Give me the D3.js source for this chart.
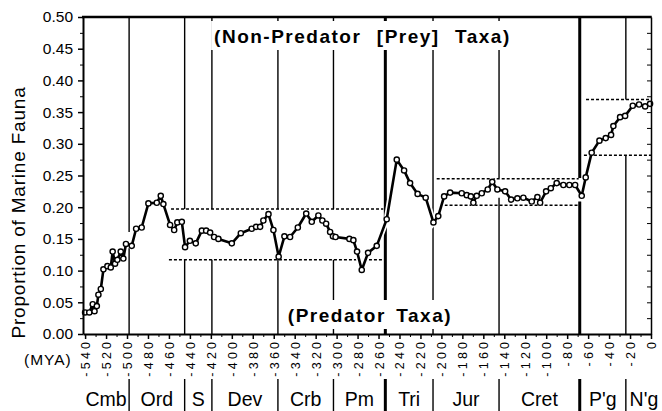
<!DOCTYPE html>
<html>
<head>
<meta charset="utf-8">
<script src="https://cdn.jsdelivr.net/npm/d3@7"></script>
<style>
body { margin: 0; background: #fff; }
svg { display: block; font-family: "Liberation Sans", Arial, Helvetica, sans-serif; }
</style>
</head>
<body>
<div id="chart"></div>
<script>
// geologic periods and their boundaries (MYA)
var periods = ["Cmb", "Ord", "S", "Dev", "Crb", "Pm", "Tri", "Jur", "Cret", "P'g", "N'g"];
var boundaries = [-498, -445, -419, -356, -303, -253.5, -208, -145, -68, -24];
var massExtinctions = [-253.5, -68];
// where each boundary line is interrupted (proportion low/high), null = drawn full
var boundaryGaps = [[0.137, 0.161], [0.117, 0.197], [0.117, 0.197], [0.117, 0.197], [0.117, 0.197],
    null, null, [0.215, 0.246], [0.209, 0.246], [0.282, 0.37]];

// era reference levels (dashed)
var eraStartUpper = [-458, -204.5, -62];
var eraStartLower = [-460, -197, -64];
var eraEnd = [-255.5, -69, 0];
var eraUpper = [0.197, 0.245, 0.370];
var eraLower = [0.117, 0.203, 0.282];

// proportion of non-predator (prey) taxa
var mya = [-540, -536, -532.7, -531, -528.8, -527.3, -525, -522.5, -518.7, -515.5, -513.7, -511.4,
    -509.2, -506, -503.5, -501, -495.5, -491.3, -486, -479.6, -471.6, -467.8, -465.3, -458.9,
    -455, -452, -447.7, -444.6, -440, -434.4, -428.6, -424.5, -420.7, -416.9, -412.8, -400,
    -391.4, -381, -376.8, -373, -369.9, -365, -360.3, -355.3, -349.8, -344.4, -337, -329,
    -323.7, -317.4, -313.6, -310, -306.2, -303.5, -301, -287.8, -284, -280.5, -276, -270,
    -261.7, -252.2, -242.6, -235.6, -229.9, -222.7, -215, -207.6, -203, -197.4, -191.7, -180.6,
    -175.8, -171.9, -169.5, -166.3, -161.5, -155.8, -151.5, -146.6, -139.2, -133.5, -127.5, -121.8,
    -113.8, -108.4, -105.8, -100.1, -95.6, -90, -83.6, -77.9, -72.4, -66.1, -62.3, -56.6,
    -49.2, -43.2, -38.1, -35.9, -29.5, -24.7, -17.4, -11.4, -5.6, -0.9];
var preyProportion = [0.034, 0.034, 0.047, 0.036, 0.044, 0.062, 0.071, 0.102, 0.107, 0.105, 0.130, 0.111,
    0.117, 0.130, 0.119, 0.142, 0.139, 0.166, 0.168, 0.206, 0.207, 0.218, 0.205, 0.172,
    0.164, 0.176, 0.177, 0.137, 0.147, 0.143, 0.163, 0.163, 0.160, 0.153, 0.150, 0.143,
    0.159, 0.166, 0.169, 0.169, 0.179, 0.189, 0.164, 0.122, 0.154, 0.153, 0.168, 0.190,
    0.177, 0.187, 0.179, 0.174, 0.161, 0.154, 0.153, 0.150, 0.148, 0.130, 0.101, 0.128,
    0.139, 0.181, 0.275, 0.258, 0.238, 0.221, 0.215, 0.176, 0.186, 0.217, 0.223, 0.222,
    0.219, 0.217, 0.207, 0.218, 0.222, 0.228, 0.240, 0.228, 0.225, 0.212, 0.214, 0.215,
    0.209, 0.216, 0.207, 0.225, 0.230, 0.238, 0.235, 0.235, 0.235, 0.218, 0.247, 0.286,
    0.305, 0.309, 0.314, 0.328, 0.342, 0.344, 0.360, 0.362, 0.359, 0.363];

var xTickValues = [-540, -520, -500, -480, -460, -440, -420, -400, -380, -360, -340, -320, -300, -280,
    -260, -240, -220, -200, -180, -160, -140, -120, -100, -80, -60, -40, -20, 0];
var xMinorTicks = [-530, -510, -490, -470, -450, -430, -410, -390, -370, -350, -330, -310, -290, -270,
    -250, -230, -210, -190, -170, -150, -130, -110, -90, -70, -50, -30, -10];
var yTickValues = [0, 0.05, 0.10, 0.15, 0.20, 0.25, 0.30, 0.35, 0.40, 0.45, 0.50];
var yMinorTicks = [0.025, 0.075, 0.125, 0.175, 0.225, 0.275, 0.325, 0.375, 0.425, 0.475];
var rightTicks = [0.025, 0.05, 0.075, 0.10, 0.125, 0.15, 0.175, 0.20, 0.225, 0.25, 0.275, 0.30,
    0.325, 0.35, 0.375, 0.40, 0.425, 0.45, 0.475];

var width = 662, height = 411;
var margin = { top: 17, right: 11, bottom: 77, left: 83 };

var x = d3.scaleLinear()
    .domain([-542, 0])
    .range([margin.left, width - margin.right]);
var y = d3.scaleLinear()
    .domain([0, 0.5])
    .range([height - margin.bottom, margin.top]);

var svg = d3.select('#chart').append('svg')
    .attr('width', width)
    .attr('height', height);

// period boundary lines
boundaries.forEach(function(b, i) {
    var w = massExtinctions.indexOf(b) >= 0 ? 3 : 1.4;
    var segs = boundaryGaps[i] ? [[0.5, boundaryGaps[i][1]], [boundaryGaps[i][0], 0]] : [[0.5, 0]];
    segs.forEach(function(s) {
        svg.append('line')
            .attr('x1', x(b)).attr('x2', x(b))
            .attr('y1', y(s[0])).attr('y2', y(s[1]))
            .attr('stroke', '#000')
            .attr('stroke-width', w);
    });
    // separators in the period name row
    svg.append('line')
        .attr('x1', x(b)).attr('x2', x(b))
        .attr('y1', 379).attr('y2', height)
        .attr('stroke', '#000')
        .attr('stroke-width', w);
});

// dashed era levels
var dashG = svg.append('g')
    .attr('stroke', '#000')
    .attr('stroke-width', 1.5)
    .attr('stroke-dasharray', '3,2');
eraUpper.forEach(function(v, i) {
    dashG.append('line')
        .attr('x1', x(eraStartUpper[i])).attr('x2', x(eraEnd[i]))
        .attr('y1', y(v)).attr('y2', y(v));
    dashG.append('line')
        .attr('x1', x(eraStartLower[i])).attr('x2', x(eraEnd[i]))
        .attr('y1', y(eraLower[i])).attr('y2', y(eraLower[i]));
});

// annotations with white backing
var noteG = svg.append('g');
function addNote(txt, xPos, yPos, anchor) {
    var t = noteG.append('text')
        .attr('x', xPos)
        .attr('y', yPos)
        .attr('text-anchor', anchor)
        .style('font-weight', 'bold')
        .style('font-size', '19px')
        .style('letter-spacing', '1.5px')
        .text(txt);
    var bb = t.node().getBBox();
    noteG.insert('rect', function() { return t.node(); })
        .attr('x', bb.x - 3)
        .attr('y', yPos - 22)
        .attr('width', bb.width + 5)
        .attr('height', 29)
        .attr('fill', '#fff');
}
addNote('(Non-Predator', x(-253.5) - 24, 43, 'end');
addNote('[Prey]', x(-253.5) - 8.5, 43, 'start');
addNote('Taxa)', x(-208) + 22, 43, 'start');
addNote('(Predator', x(-253.5) + 0.5, 322, 'end');
addNote('Taxa)', x(-253.5) + 11, 322, 'start');

// data series
var data = mya.map(function(m, i) { return { x: m, y: preyProportion[i] }; });
var line = d3.line()
    .x(function(d) { return x(d.x); })
    .y(function(d) { return y(d.y); });

svg.append('path')
    .attr('d', line(data))
    .attr('fill', 'none')
    .attr('stroke', '#fff')
    .attr('stroke-width', 6);
svg.append('path')
    .attr('d', line(data))
    .attr('fill', 'none')
    .attr('stroke', '#000')
    .attr('stroke-width', 2.6)
    .attr('stroke-linejoin', 'round');
svg.append('g').selectAll('circle')
    .data(data)
    .enter().append('circle')
    .attr('cx', function(d) { return x(d.x); })
    .attr('cy', function(d) { return y(d.y); })
    .attr('r', 2.6)
    .attr('fill', '#fff')
    .attr('stroke', '#000')
    .attr('stroke-width', 1.4);

// axes
var yAxis = svg.append('g')
    .attr('transform', 'translate(' + margin.left + ',0)')
    .call(d3.axisLeft(y).tickValues(yTickValues).tickFormat(d3.format('.2f')).tickSize(5).tickSizeOuter(0));
yAxis.selectAll('text').style('font-size', '15.5px').attr('x', -10);
yAxis.select('.domain').attr('stroke-width', 2);
yAxis.selectAll('.tick line').attr('stroke-width', 1.5);

svg.append('g')
    .attr('transform', 'translate(' + margin.left + ',0)')
    .call(d3.axisLeft(y).tickValues(yMinorTicks).tickFormat('').tickSize(3).tickSizeOuter(0))
    .select('.domain').remove();

var rAxis = svg.append('g')
    .attr('transform', 'translate(' + (width - margin.right) + ',0)')
    .call(d3.axisLeft(y).tickValues(rightTicks).tickFormat('').tickSize(4).tickSizeOuter(0));
rAxis.select('.domain').attr('stroke-width', 1.5);

var ls = 3.2;
var xAxis = svg.append('g')
    .attr('transform', 'translate(0,' + y(0) + ')')
    .call(d3.axisBottom(x).tickValues(xTickValues).tickFormat(function(d) { return String(d); }).tickSize(5).tickSizeOuter(0));
xAxis.select('.domain').attr('stroke-width', 2);
xAxis.selectAll('.tick line').attr('stroke-width', 1.5);
xAxis.selectAll('text')
    .style('font-size', '12.5px')
    .style('letter-spacing', ls + 'px')
    .attr('transform', 'rotate(-90)')
    .attr('x', -(8 - ls))
    .attr('y', 0)
    .attr('dy', '0.36em')
    .style('text-anchor', 'end');

svg.append('g')
    .attr('transform', 'translate(0,' + y(0) + ')')
    .call(d3.axisBottom(x).tickValues(xMinorTicks).tickFormat('').tickSize(3).tickSizeOuter(0))
    .select('.domain').remove();

// top border
svg.append('line')
    .attr('x1', margin.left - 1).attr('x2', width - margin.right + 0.75)
    .attr('y1', y(0.5)).attr('y2', y(0.5))
    .attr('stroke', '#000')
    .attr('stroke-width', 2.5);

// titles
svg.append('text')
    .attr('transform', 'translate(25,' + ((y(0.5) + y(0)) / 2 + 37) + ') rotate(-90)')
    .attr('text-anchor', 'middle')
    .style('font-size', '19px')
    .style('letter-spacing', '0.8px')
    .text('Proportion of Marine Fauna');

svg.append('text')
    .attr('x', 24)
    .attr('y', 365)
    .style('font-size', '15.5px')
    .style('letter-spacing', '1px')
    .text('(MYA)');

// period names
svg.append('g').selectAll('text')
    .data(periods)
    .enter().append('text')
    .attr('x', function(d, i) {
        var lo = i === 0 ? x.range()[0] : x(boundaries[i - 1]);
        var hi = i === periods.length - 1 ? width : x(boundaries[i]);
        return (lo + hi) / 2;
    })
    .attr('y', 406)
    .attr('text-anchor', 'middle')
    .style('font-size', '19.5px')
    .text(function(d) { return d; });
</script>
</body>
</html>
